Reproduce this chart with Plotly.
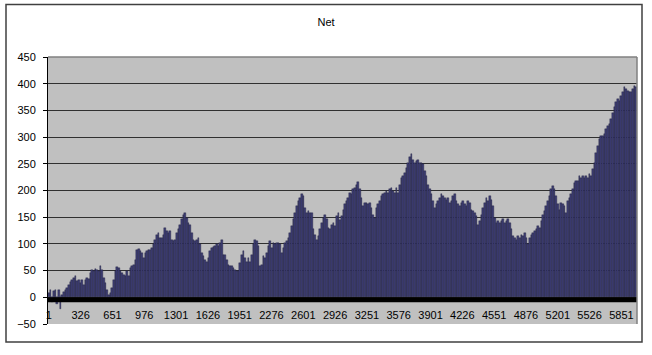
import plotly.graph_objects as go

# ---- data (one sample every 17 categories) ----
net_start = [8, 14, -9, 11, 14, -12, 13, -22]
net_a = [5, 9, 13, 18, 23, 28, 33, 36, 39, 30,
         33, 27, 33, 23, 33, 36, 35, 45, 52, 49,
         53, 52, 49, 58, 52, 36, 27, 14, 5, 8,
         17, 33, 49, 57, 55, 49, 45, 42, 40, 49,
         40, 55, 59, 61, 70, 89, 90, 86, 83, 74,
         83, 86, 89, 89, 92, 99, 108, 117, 121, 111,
         111, 117, 130, 124, 121, 124, 108, 105, 108, 121,
         128, 136, 146, 155, 158, 149, 139, 136, 121, 108,
         105]
net_b = [108, 111, 99, 83, 77, 70, 67, 74, 86, 92,
         94, 96, 99, 96, 102, 108, 80, 80, 70, 61,
         58, 58, 55, 52, 49, 49, 64, 80, 86, 74,
         67, 74, 67, 80, 99, 108, 105, 96, 58, 61,
         77, 74, 83, 96, 105, 92, 102, 99, 102, 102,
         99, 83, 92, 102, 105, 111, 121, 133, 146, 158,
         171, 180, 186, 193, 190, 168, 158, 161, 158, 158,
         127, 117, 108, 114, 127, 139, 149, 155, 146, 130,
         127, 136, 139, 133, 152, 158, 145]
net_c = [152, 164, 174, 180, 186, 196, 193, 202, 205, 211,
         215, 202, 186, 171, 177, 177, 174, 177, 168, 155,
         149, 168, 174, 180, 190, 193, 196, 199, 196, 202,
         205, 199, 196, 205, 196, 211, 224, 227, 233, 243,
         252, 262, 268, 258, 252, 255, 257, 252, 252, 249,
         237, 227, 211, 202, 193, 180, 168, 174, 180, 186,
         193, 190, 186, 183, 186, 177, 180, 190, 193, 180,
         174, 171, 177, 180, 174, 171, 180, 177, 164, 161,
         158, 152, 136, 143]
net_d = [155, 168, 177, 186, 180, 189, 183, 171, 149, 139,
         142, 139, 142, 146, 139, 142, 146, 139, 127, 114,
         111, 108, 114, 111, 117, 114, 121, 111, 99, 111,
         117, 121, 124, 127, 133, 130, 142, 155, 161, 171,
         180, 189, 202, 208, 202, 189, 174, 164, 177, 174,
         171, 158, 180, 186, 193, 202, 214, 218, 218, 227,
         224, 227, 224, 227, 224, 230, 227, 240, 252, 271,
         283, 296, 302, 302, 305, 315, 321, 324, 333, 346,
         356, 365, 371, 368, 377, 384, 394, 390, 387, 384,
         384, 390, 396, 393]
net = net_start + net_a + net_b + net_c + net_d
SAMPLE_STEP = 17
categories = [1 + SAMPLE_STEP * k for k in range(len(net))]
tick_labels = ["1", "326", "651", "976", "1301", "1626", "1951", "2276", "2601",
               "2926", "3251", "3576", "3901", "4226", "4551", "4876", "5201",
               "5526", "5851"]
y_ticks = [-50, 0, 50, 100, 150, 200, 250, 300, 350, 400, 450]

# ---- layout geometry (pixels) ----
W, H = 652, 355
PL, PR, PT, PB = 48, 637, 57, 324
pw, ph = PR - PL, PB - PT
FONT = "Liberation Sans, Arial, sans-serif"

fig = go.Figure()
fig.add_trace(go.Bar(
    x=categories, y=net,
    marker=dict(color="#3e3e74", line=dict(color="#1e1e3c", width=0.4)),
    hoverinfo="x+y", showlegend=False,
))

xr = [categories[0] - SAMPLE_STEP / 2, categories[-1] + SAMPLE_STEP / 2]

def px_to_paper_x(px):
    return (px - PL) / pw

def px_to_paper_y(py):
    return (PB - py) / ph

shapes = [
    # thick category axis band at zero
    dict(type="rect", xref="paper", yref="y", x0=0, x1=1, y0=-9.4, y1=0,
         fillcolor="black", line=dict(width=0), layer="above"),
    # plot area border top/right (grey)
    dict(type="line", xref="paper", yref="paper", x0=0, x1=1, y0=1, y1=1,
         line=dict(color="#808080", width=1.5), layer="above"),
    dict(type="line", xref="paper", yref="paper", x0=1, x1=1, y0=0, y1=1,
         line=dict(color="#808080", width=1.5), layer="above"),
    # outer chart border
    dict(type="rect", xref="paper", yref="paper",
         x0=px_to_paper_x(6), x1=px_to_paper_x(642),
         y0=px_to_paper_y(342), y1=px_to_paper_y(4.5),
         line=dict(color="#404040", width=1.5), layer="above"),
]

fig.update_layout(
    width=W, height=H,
    margin=dict(l=PL, r=W - PR, t=PT, b=H - PB, pad=0),
    paper_bgcolor="white", plot_bgcolor="#c0c0c0",
    bargap=0,
    font=dict(family=FONT, size=11, color="black"),
    title=dict(text="Net", x=0.5, xref="container", xanchor="center",
               y=1 - 22 / H, yref="container", yanchor="middle",
               font=dict(family=FONT, size=11, color="black")),
    xaxis=dict(range=xr, tickvals=[int(t) for t in tick_labels], ticktext=tick_labels,
               showgrid=False, zeroline=False, showline=False, ticks="",
               anchor="free", position=(PB - 307) / ph,
               tickfont=dict(family=FONT, size=11, color="black"), fixedrange=True),
    yaxis=dict(range=[-50, 450], tickvals=y_ticks, showgrid=True,
               gridcolor="#303030", gridwidth=1, zeroline=False,
               showline=True, linecolor="black", linewidth=1,
               ticks="outside", ticklen=4, tickcolor="black",
               ticklabelstandoff=5,
               tickfont=dict(family=FONT, size=11, color="black"), fixedrange=True),
    shapes=shapes,
)

fig.write_html("out.html")
